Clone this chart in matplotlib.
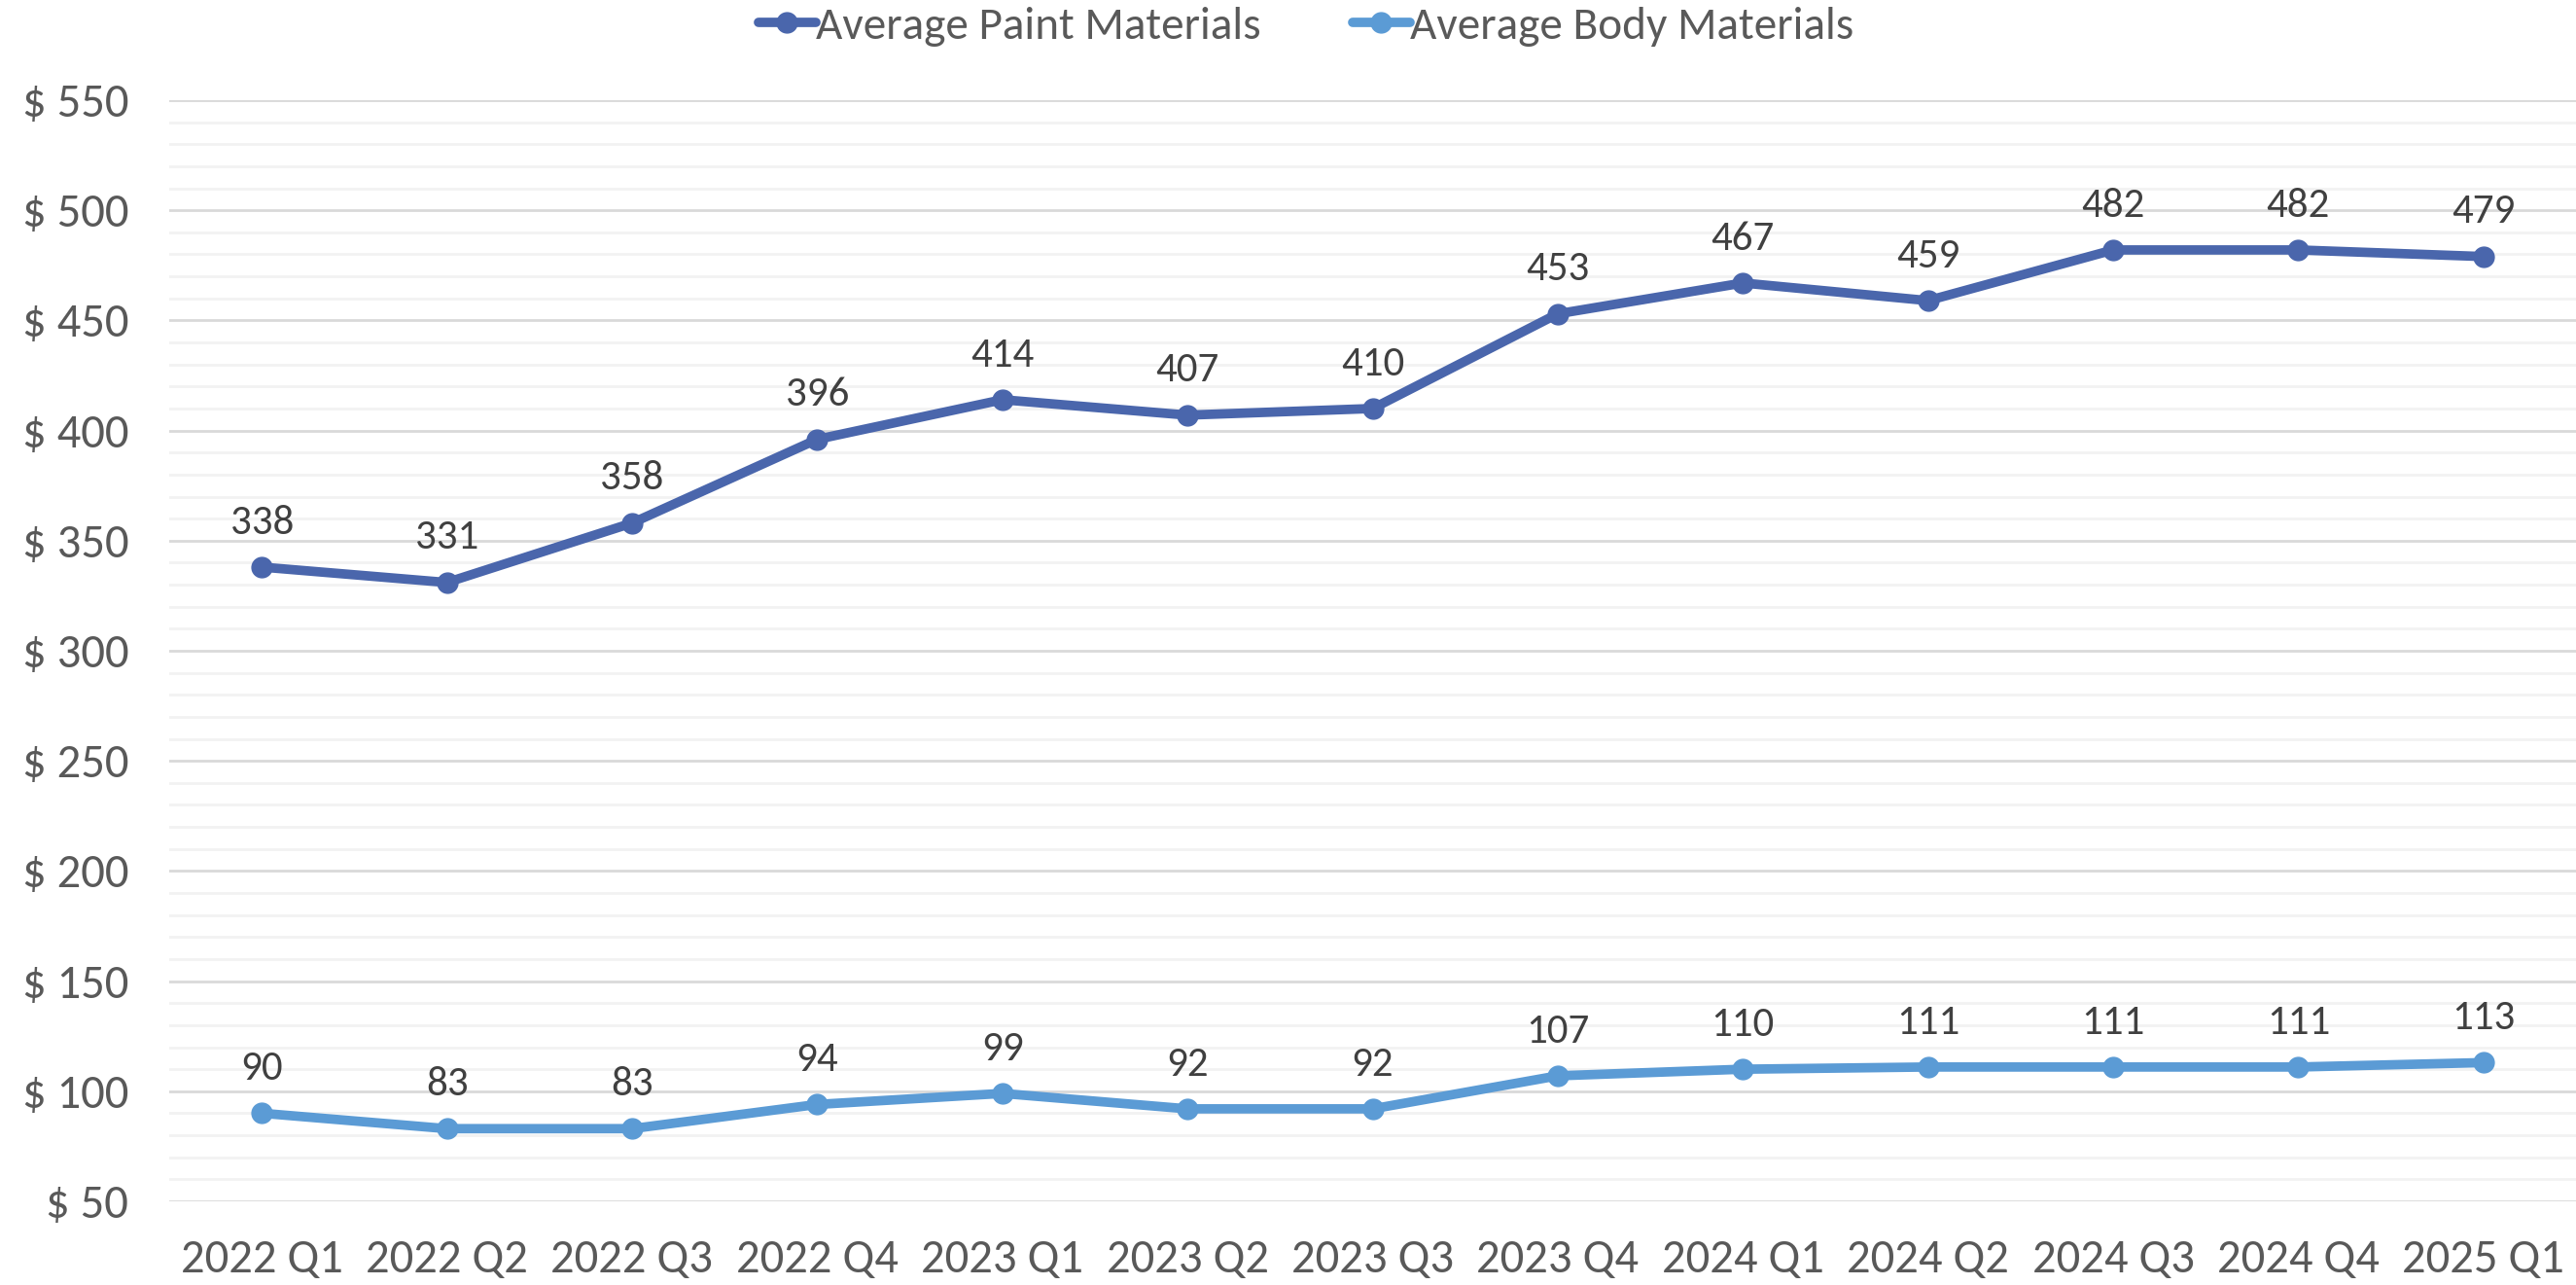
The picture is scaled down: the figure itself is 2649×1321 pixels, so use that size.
import matplotlib.pyplot as plt
from matplotlib.ticker import MultipleLocator, FuncFormatter

quarters = ["2022 Q1", "2022 Q2", "2022 Q3", "2022 Q4", "2023 Q1", "2023 Q2", "2023 Q3",
            "2023 Q4", "2024 Q1", "2024 Q2", "2024 Q3", "2024 Q4", "2025 Q1"]
paint = [338, 331, 358, 396, 414, 407, 410, 453, 467, 459, 482, 482, 479]
body = [90, 83, 83, 94, 99, 92, 92, 107, 110, 111, 111, 111, 113]

PAINT_COLOR = "#4A66AC"
BODY_COLOR = "#5B9BD5"
TEXT = "#595959"

plt.rcParams["font.family"] = ["Carlito", "DejaVu Sans"]

fig = plt.figure(figsize=(26.49, 13.21), dpi=100)
ax = fig.add_axes([174 / 2649, 1 - 1235 / 1321, 1 - 174 / 2649, (1235 - 103) / 1321])

x = range(len(quarters))
for vals, color, name in [(paint, PAINT_COLOR, "Average Paint Materials"),
                          (body, BODY_COLOR, "Average Body Materials")]:
    ax.plot(x, vals, color=color, lw=7, marker="o", ms=15, label=name, solid_capstyle="round")
    for xi, v in zip(x, vals):
        ax.annotate(str(v), (xi, v), xytext=(0, 33), textcoords="offset points",
                    ha="center", va="center", fontsize=31, color="#404040")

ax.set_xlim(-0.5, len(quarters) - 0.5)
ax.set_ylim(50, 550)
ax.yaxis.set_major_locator(MultipleLocator(50))
ax.yaxis.set_minor_locator(MultipleLocator(10))
ax.yaxis.set_major_formatter(FuncFormatter(lambda v, _: f"$ {v:.0f}"))
ax.set_xticks(list(x))
ax.set_xticklabels(quarters)
ax.grid(which="major", axis="y", color="#D9D9D9", lw=2)
ax.grid(which="minor", axis="y", color="#F2F2F2", lw=2)
ax.set_axisbelow(True)
for s in ax.spines.values():
    s.set_visible(False)
ax.tick_params(axis="both", which="both", length=0, labelsize=35, colors=TEXT)
ax.tick_params(axis="y", pad=30)
ax.tick_params(axis="x", pad=28)

fig.legend(loc="center", bbox_to_anchor=(0.507, 1 - 27 / 1321), ncol=2, frameon=False,
           fontsize=34, handlelength=1.25, handletextpad=0.0, columnspacing=2.0,
           labelcolor=TEXT, borderpad=0)

fig.savefig("out.png", dpi=100)
